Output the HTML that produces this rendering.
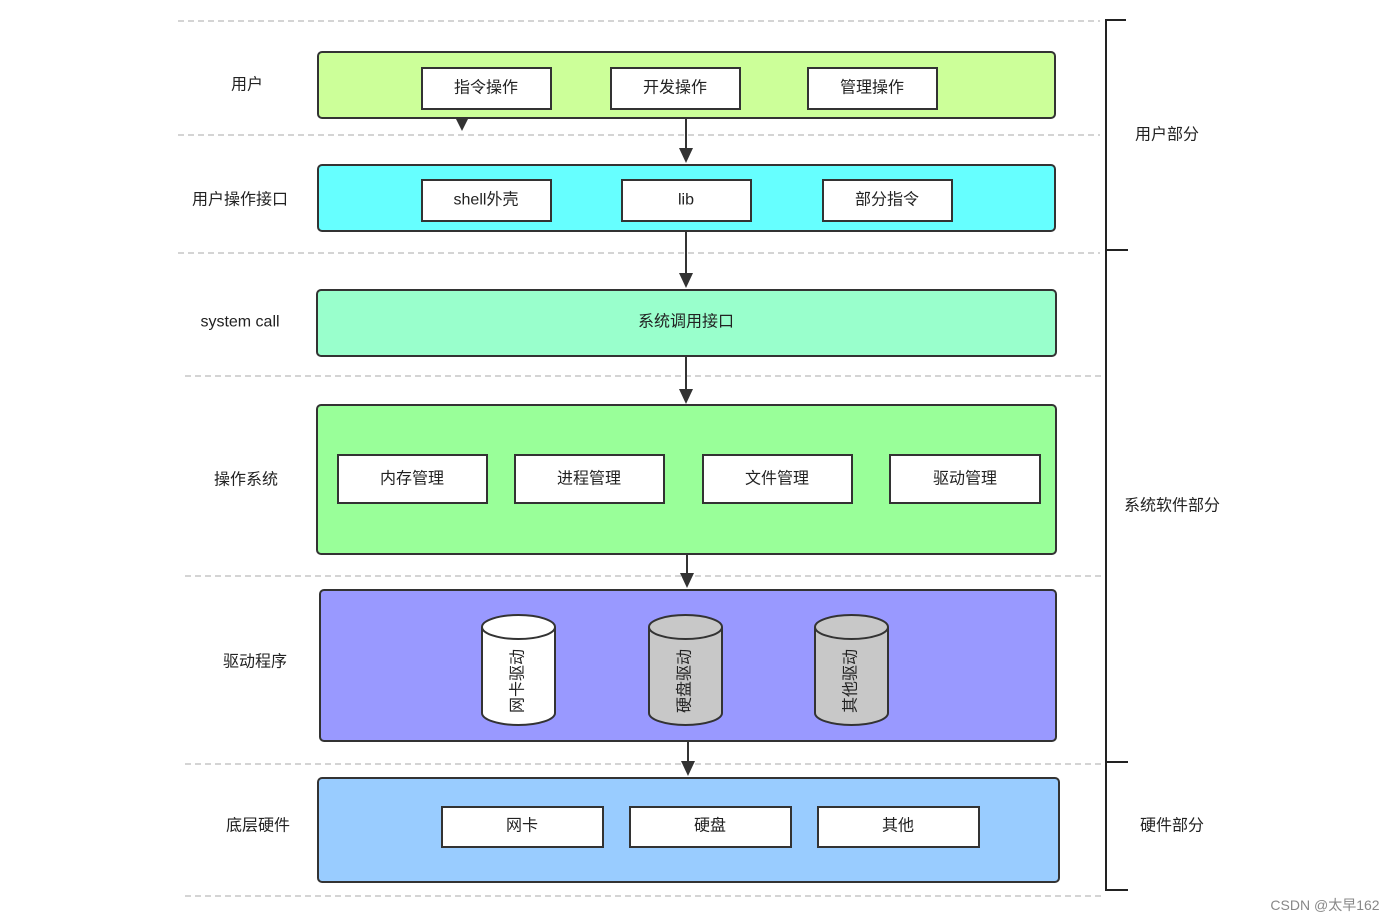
<!DOCTYPE html>
<html><head><meta charset="utf-8"><style>
body{margin:0;background:#fff;}
svg{display:block;font-family:"Liberation Sans","Noto Sans CJK SC",sans-serif;}
text{font-size:16px;fill:#222;}
</style></head><body>
<svg width="1396" height="922" viewBox="0 0 1396 922" xmlns="http://www.w3.org/2000/svg">
<g stroke="#aaa" stroke-dasharray="6,4" stroke-width="1">
<line x1="178" y1="21" x2="1100" y2="21"/>
<line x1="178" y1="135" x2="1100" y2="135"/>
<line x1="178" y1="253" x2="1100" y2="253"/>
<line x1="185" y1="376" x2="1105" y2="376"/>
<line x1="185" y1="576" x2="1105" y2="576"/>
<line x1="185" y1="764" x2="1105" y2="764"/>
<line x1="185" y1="896" x2="1105" y2="896"/>
</g>
<g stroke="#333" stroke-width="2">
<rect x="318" y="52" width="737" height="66" rx="4" fill="#ccff99"/>
<rect x="318" y="165" width="737" height="66" rx="4" fill="#66ffff"/>
<rect x="317" y="290" width="739" height="66" rx="4" fill="#99ffcc"/>
<rect x="317" y="405" width="739" height="149" rx="4" fill="#99ff99"/>
<rect x="320" y="590" width="736" height="151" rx="4" fill="#9999ff"/>
<rect x="318" y="778" width="741" height="104" rx="4" fill="#99ccff"/>
</g>
<g stroke="#333" stroke-width="2" fill="#fff">
<rect x="422" y="68" width="129" height="41"/>
<rect x="611" y="68" width="129" height="41"/>
<rect x="808" y="68" width="129" height="41"/>
<rect x="422" y="180" width="129" height="41"/>
<rect x="622" y="180" width="129" height="41"/>
<rect x="823" y="180" width="129" height="41"/>
<rect x="338" y="455" width="149" height="48"/>
<rect x="515" y="455" width="149" height="48"/>
<rect x="703" y="455" width="149" height="48"/>
<rect x="890" y="455" width="150" height="48"/>
<rect x="442" y="807" width="161" height="40"/>
<rect x="630" y="807" width="161" height="40"/>
<rect x="818" y="807" width="161" height="40"/>
</g>
<g stroke="#333" stroke-width="2">
<path d="M482,627 L482,713 A36.5,12 0 0 0 555,713 L555,627" fill="#fff"/>
<ellipse cx="518.5" cy="627" rx="36.5" ry="12" fill="#fff"/>
<path d="M649,627 L649,713 A36.5,12 0 0 0 722,713 L722,627" fill="#c8c8c8"/>
<ellipse cx="685.5" cy="627" rx="36.5" ry="12" fill="#c8c8c8"/>
<path d="M815,627 L815,713 A36.5,12 0 0 0 888,713 L888,627" fill="#c8c8c8"/>
<ellipse cx="851.5" cy="627" rx="36.5" ry="12" fill="#c8c8c8"/>
</g>
<g stroke="#333" stroke-width="2">
<line x1="686" y1="118" x2="686" y2="150"/>
<line x1="686" y1="231" x2="686" y2="274"/>
<line x1="686" y1="356" x2="686" y2="390"/>
<line x1="687" y1="554" x2="687" y2="574"/>
<line x1="688" y1="741" x2="688" y2="762"/>
</g>
<g fill="#333">
<path d="M679,148 L693,148 L686,163 z"/>
<path d="M679,273 L693,273 L686,288 z"/>
<path d="M679,389 L693,389 L686,404 z"/>
<path d="M680,573 L694,573 L687,588 z"/>
<path d="M681,761 L695,761 L688,776 z"/>
<path d="M456,119 L468,119 L462,131 z"/>
</g>
<g text-anchor="middle" dominant-baseline="central">
<text x="486" y="88">指令操作</text>
<text x="675" y="88">开发操作</text>
<text x="872" y="88">管理操作</text>
<text x="486" y="200">shell外壳</text>
<text x="686" y="200">lib</text>
<text x="887" y="200">部分指令</text>
<text x="686" y="322">系统调用接口</text>
<text x="412" y="479">内存管理</text>
<text x="589" y="479">进程管理</text>
<text x="777" y="479">文件管理</text>
<text x="965" y="479">驱动管理</text>
<text x="522" y="826">网卡</text>
<text x="710" y="826">硬盘</text>
<text x="898" y="826">其他</text>
<text transform="translate(518,681) rotate(-90)">网卡驱动</text>
<text transform="translate(685,681) rotate(-90)">硬盘驱动</text>
<text transform="translate(851,681) rotate(-90)">其他驱动</text>
<text x="247" y="85">用户</text>
<text x="240" y="200">用户操作接口</text>
<text x="240" y="322">system call</text>
<text x="246" y="480">操作系统</text>
<text x="255" y="662">驱动程序</text>
<text x="258" y="826">底层硬件</text>
<text x="1167" y="135">用户部分</text>
<text x="1172" y="506">系统软件部分</text>
<text x="1172" y="826">硬件部分</text>
</g>
<g stroke="#222" stroke-width="2" fill="none">
<line x1="1106" y1="20" x2="1106" y2="890"/>
<line x1="1105" y1="20" x2="1126" y2="20"/>
<line x1="1105" y1="250" x2="1128" y2="250"/>
<line x1="1105" y1="762" x2="1128" y2="762"/>
<line x1="1105" y1="890" x2="1128" y2="890"/>
</g>
<text x="1325" y="910" text-anchor="middle" style="font-size:14px;fill:#888">CSDN @太早162</text>
</svg>
</body></html>
